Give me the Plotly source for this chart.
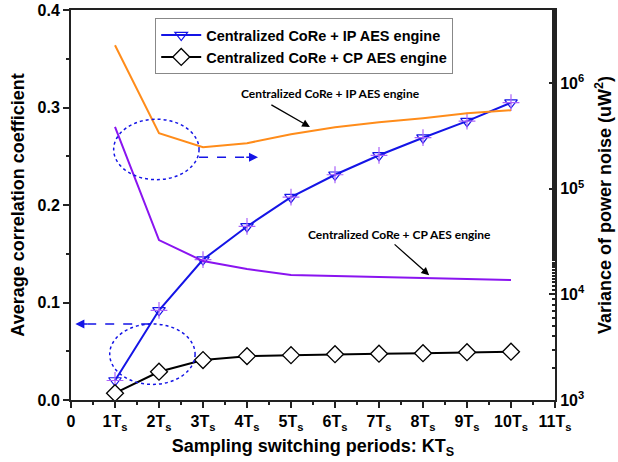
import plotly.graph_objects as go

# Sampling switching periods K (in units of T_s)
periods = [1, 2, 3, 4, 5, 6, 7, 8, 9, 10]

# Average correlation coefficient (left axis)
corr_ip = [0.020, 0.092, 0.144, 0.178, 0.208, 0.231, 0.251, 0.269, 0.286, 0.305]
corr_cp = [0.007, 0.029, 0.041, 0.045, 0.046, 0.047, 0.0475, 0.048, 0.049, 0.0495]

# Variance of power noise in uW^2 (right axis, log scale)
var_ip = [2.29e6, 3.36e5, 2.48e5, 2.70e5, 3.29e5, 3.83e5, 4.27e5, 4.66e5, 5.19e5, 5.54e5]
var_cp = [3.85e5, 3.27e4, 2.07e4, 1.74e4, 1.53e4, 1.49e4, 1.46e4, 1.43e4, 1.40e4, 1.37e4]

x_tickvals = list(range(0, 12))
x_ticktext = ["0"] + [f"{k}T<sub>s</sub>" for k in range(1, 12)]
y2_tickvals = [1e3, 1e4, 1e5, 1e6]
y2_ticktext = ["10<sup>3</sup>", "10<sup>4</sup>", "10<sup>5</sup>", "10<sup>6</sup>"]

BLUE = "#1414E6"
ORANGE = "#FF8C1A"
PURPLE = "#8A14F0"
FONT = "Liberation Sans"

fig = go.Figure()

# variance curves (right axis)
fig.add_trace(go.Scatter(x=periods, y=var_ip, mode="lines", yaxis="y2",
                         line=dict(color=ORANGE, width=2), showlegend=False))
fig.add_trace(go.Scatter(x=periods, y=var_cp, mode="lines", yaxis="y2",
                         line=dict(color=PURPLE, width=2), showlegend=False))

# correlation curves (left axis)
fig.add_trace(go.Scatter(x=periods, y=corr_ip, mode="lines+markers",
                         name="Centralized CoRe + IP AES engine",
                         line=dict(color=BLUE, width=2),
                         marker=dict(symbol="triangle-down-open", size=11,
                                     color=BLUE, line=dict(width=1.2, color=BLUE))))
fig.add_trace(go.Scatter(x=periods, y=corr_ip, mode="markers", showlegend=False,
                         marker=dict(symbol="cross-thin-open", size=12,
                                     line=dict(width=1.2, color=BLUE))))
fig.add_trace(go.Scatter(x=periods, y=corr_cp, mode="lines+markers",
                         name="Centralized CoRe + CP AES engine",
                         line=dict(color="black", width=2),
                         marker=dict(symbol="diamond", size=13, color="white",
                                     line=dict(width=1.3, color="black"))))

shapes = [
    # dotted ellipses marking the groups of curves
    dict(type="circle", xref="x", yref="y", x0=0.97, x1=2.91, y0=0.226, y1=0.288,
         line=dict(color=BLUE, width=1.5, dash="dot")),
    dict(type="circle", xref="x", yref="y", x0=0.88, x1=2.82, y0=0.016, y1=0.078,
         line=dict(color=BLUE, width=1.5, dash="dot")),
    # dashed leaders pointing to the respective axes
    dict(type="line", xref="x", yref="y", x0=2.91, x1=4.05, y0=0.249, y1=0.249,
         line=dict(color=BLUE, width=1.5, dash="dash")),
    dict(type="line", xref="x", yref="y", x0=1.80, x1=0.35, y0=0.078, y1=0.078,
         line=dict(color=BLUE, width=1.5, dash="dash")),
]

annotations = [
    dict(x=4.25, y=0.249, ax=3.95, ay=0.249, xref="x", yref="y", axref="x", ayref="y",
         text="", showarrow=True, arrowhead=2, arrowsize=1.2, arrowwidth=1.5,
         arrowcolor=BLUE),
    dict(x=0.10, y=0.078, ax=0.40, ay=0.078, xref="x", yref="y", axref="x", ayref="y",
         text="", showarrow=True, arrowhead=2, arrowsize=1.2, arrowwidth=1.5,
         arrowcolor=BLUE),
    dict(x=5.43, y=0.280, ax=4.52, ay=0.3036, xref="x", yref="y", axref="x", ayref="y",
         text="", showarrow=True, arrowhead=2, arrowsize=1.2, arrowwidth=1.3,
         arrowcolor="black"),
    dict(x=8.14, y=0.128, ax=7.32, ay=0.161, xref="x", yref="y", axref="x", ayref="y",
         text="", showarrow=True, arrowhead=2, arrowsize=1.2, arrowwidth=1.3,
         arrowcolor="black"),
    dict(x=5.9, y=0.314, xref="x", yref="y", showarrow=False,
         text="Centralized CoRe + IP AES engine",
         font=dict(family="Lato", size=12, color="black", weight="bold")),
    dict(x=7.47, y=0.170, xref="x", yref="y", showarrow=False,
         text="Centralized CoRe + CP AES engine",
         font=dict(family="Lato", size=12, color="black", weight="bold")),
]

tickfont = dict(family=FONT, size=16, color="black", weight="bold")
titlefont = dict(family=FONT, size=18, color="black", weight="bold")

fig.update_layout(
    width=618, height=462,
    margin=dict(l=71, r=63, t=10, b=62),
    plot_bgcolor="white", paper_bgcolor="white",
    shapes=shapes, annotations=annotations,
    legend=dict(x=0.174, y=0.979, xanchor="left", yanchor="top",
                bgcolor="white", bordercolor="#888888", borderwidth=1,
                font=dict(family=FONT, size=14.5, color="black", weight="bold"),
                tracegroupgap=0, itemwidth=40),
    xaxis=dict(range=[0, 11], tickvals=x_tickvals, ticktext=x_ticktext,
               automargin=False,
               showgrid=False, zeroline=False, showline=True, linecolor="#222222",
               linewidth=2, mirror=True, ticks="outside", ticklen=6, tickwidth=1.5,
               tickcolor="#222222", tickfont=tickfont,
               minor=dict(dtick=0.5, ticks="outside", ticklen=3, tickcolor="#222222"),
               title=dict(text="Sampling switching periods: KT<sub>S</sub>",
                          font=titlefont, standoff=8)),
    yaxis=dict(range=[0, 0.4], tickvals=[0, 0.1, 0.2, 0.3, 0.4],
               ticktext=["0.0", "0.1", "0.2", "0.3", "0.4"],
               automargin=False,
               showgrid=False, zeroline=False, showline=True, linecolor="#222222",
               linewidth=2, ticks="outside", ticklen=6, tickwidth=1.5,
               tickcolor="#222222", tickfont=tickfont,
               minor=dict(dtick=0.05, ticks="outside", ticklen=3, tickcolor="#222222"),
               title=dict(text="Average correlation coefficient", font=titlefont,
                          standoff=8)),
    yaxis2=dict(type="log", range=[3, 6.693], overlaying="y", side="right",
                tickvals=y2_tickvals, ticktext=y2_ticktext,
                automargin=False,
                showgrid=False, zeroline=False, showline=True, linecolor="#222222",
                linewidth=2, ticks="inside", ticklen=6, tickwidth=1.5,
                tickcolor="#222222", tickfont=tickfont,
                minor=dict(ticks="inside", ticklen=3, tickcolor="#222222"),
                title=dict(text="Variance of power noise (uW<sup>2</sup>)",
                           font=titlefont, standoff=14)),
)

fig.write_html("out.html")
